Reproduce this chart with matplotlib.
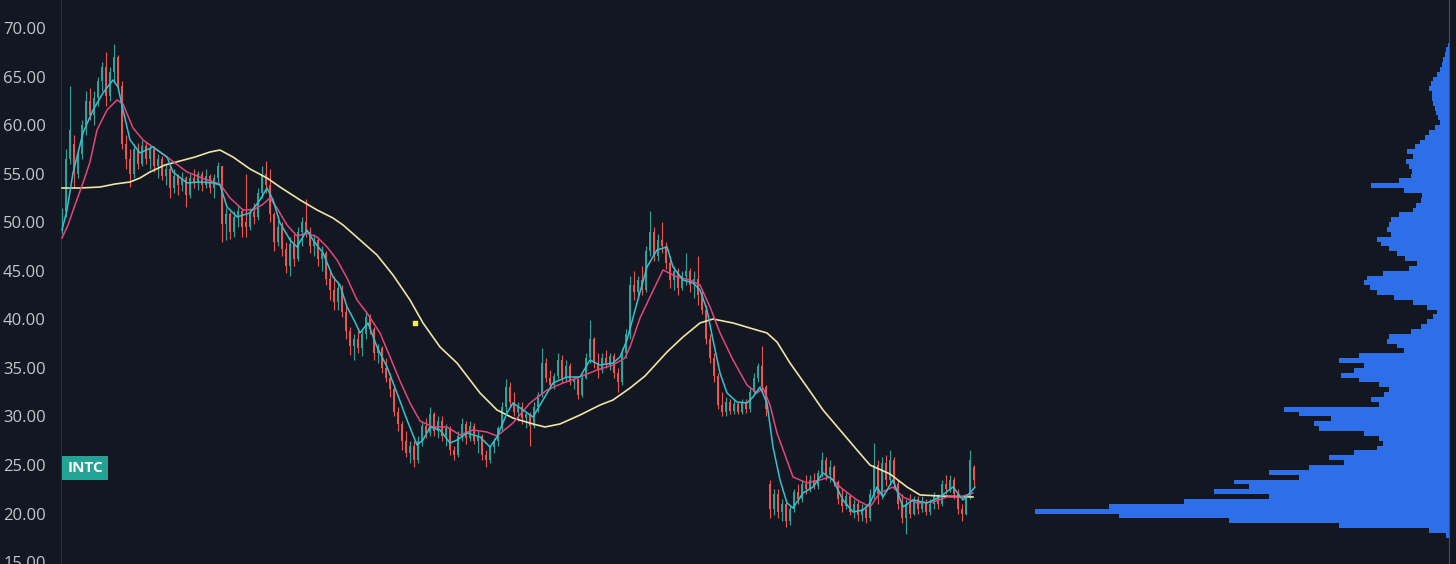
"""INTC daily candles with three moving averages and a volume profile, TradingView dark style."""

import matplotlib
matplotlib.use("Agg")
import matplotlib.pyplot as plt
import matplotlib.transforms as mtransforms
import numpy as np

plt.rcParams["font.family"] = ["Open Sans", "DejaVu Sans"]

# Candles (one entry per bar, oldest first), prices in USD.
opens = [49.0, 51.0, 56.5, 58.0, 55.0, 57.0, 60.0, 62.5, 61.0, 62.8, 64.5, 66.0, 63.0, 65.5, 67.0, 64.0, 58.0, 56.5, 55.0, 57.5,
         56.0, 57.8, 56.5, 57.5, 55.8, 56.5, 54.8, 55.5, 53.5, 54.8, 53.8, 54.5, 52.8, 54.5, 54.0, 55.0, 53.8, 54.8, 53.5, 54.5,
         55.8, 49.8, 50.8, 49.0, 50.5, 51.2, 50.0, 49.5, 51.0, 50.5, 53.0, 55.0, 53.8, 50.8, 48.0, 49.5, 47.2, 45.5, 47.8, 46.2,
         49.0, 50.0, 49.0, 47.5, 48.2, 46.2, 46.8, 44.2, 43.0, 41.8, 43.2, 40.8, 38.8, 37.2, 38.0, 37.0, 38.5, 40.2, 39.0, 36.5,
         37.0, 35.0, 34.0, 32.8, 30.5, 29.2, 27.5, 26.2, 27.0, 25.5, 27.5, 29.0, 28.3, 30.2, 28.5, 29.5, 28.0, 28.8, 26.5, 26.0,
         28.0, 29.2, 27.8, 29.0, 27.5, 28.0, 26.0, 25.5, 26.8, 27.5, 28.8, 31.0, 33.0, 31.5, 30.5, 31.0, 29.8, 30.2, 29.0, 31.0,
         32.2, 35.5, 34.0, 33.2, 34.2, 35.8, 34.0, 35.2, 33.5, 33.8, 32.2, 34.0, 36.0, 38.0, 35.5, 34.8, 36.0, 35.3, 36.2, 34.5,
         33.5, 36.5, 38.5, 43.5, 42.8, 44.0, 43.0, 47.0, 49.0, 46.5, 48.2, 47.5, 45.8, 44.0, 45.0, 43.2, 44.5, 45.0, 43.5, 44.2,
         42.5, 41.0, 38.0, 36.0, 34.2, 31.2, 30.5, 31.5, 30.6, 31.3, 30.5, 31.5, 30.8, 32.5, 34.0, 35.2, 33.0, 23.0, 20.5, 22.0,
         20.2, 21.0, 19.2, 20.5, 22.2, 21.5, 23.0, 22.5, 23.5, 22.8, 24.2, 25.5, 24.0, 24.8, 23.2, 21.5, 20.8, 21.8, 20.2, 21.0,
         19.8, 20.5, 19.5, 22.0, 25.0, 22.0, 25.2, 23.5, 25.5, 23.0, 21.0, 19.5, 21.0, 20.0, 21.5, 20.5, 21.2, 20.2, 21.0, 21.8,
         21.0, 23.0, 22.5, 23.5, 22.0, 20.5, 20.0, 21.8, 24.8]
highs = [51.5, 57.5, 64.0, 59.0, 57.5, 60.5, 63.5, 63.8, 63.5, 65.0, 66.5, 67.5, 66.0, 68.4, 67.2, 64.5, 59.0, 57.5, 58.0, 58.2,
         58.5, 58.3, 58.0, 57.8, 57.0, 56.8, 56.0, 55.8, 55.5, 55.0, 55.2, 54.8, 55.0, 55.5, 55.3, 55.3, 55.5, 55.0, 55.0, 56.2,
         55.8, 51.5, 51.0, 51.2, 51.8, 51.5, 55.0, 51.5, 52.0, 53.5, 55.8, 56.3, 55.5, 51.0, 50.2, 50.0, 48.0, 48.5, 48.8, 49.5,
         50.5, 52.4, 49.5, 48.8, 48.5, 47.5, 47.0, 45.0, 44.5, 43.8, 43.5, 41.5, 39.2, 38.5, 38.8, 39.0, 40.8, 40.5, 39.2, 37.5,
         37.3, 36.0, 34.5, 33.0, 31.0, 29.5, 28.5, 27.5, 27.5, 28.0, 29.5, 29.8, 31.0, 30.5, 30.0, 30.0, 29.2, 29.0, 27.0, 28.5,
         29.8, 29.5, 29.5, 29.3, 28.5, 28.2, 26.5, 27.0, 27.8, 29.0, 31.5, 33.8, 33.5, 32.5, 31.5, 31.5, 30.5, 30.5, 31.5, 32.5,
         37.0, 36.0, 34.8, 34.5, 36.5, 36.3, 35.8, 35.5, 34.2, 34.0, 34.5, 36.5, 39.9, 38.2, 36.5, 36.5, 36.8, 36.5, 36.5, 35.0,
         37.0, 39.0, 44.5, 45.0, 44.5, 45.5, 47.5, 51.2, 49.5, 48.8, 50.0, 48.0, 46.5, 45.5, 45.3, 45.0, 46.8, 45.3, 45.0, 46.5,
         43.0, 41.5, 38.5, 36.5, 34.5, 32.5, 32.0, 31.8, 31.8, 31.5, 31.8, 31.8, 33.0, 34.5, 35.5, 37.2, 33.2, 23.5, 22.5, 22.5,
         21.5, 21.2, 20.8, 22.5, 23.0, 23.5, 24.0, 24.0, 24.2, 24.5, 26.3, 25.8, 25.5, 25.0, 23.5, 22.5, 22.2, 22.0, 21.5, 21.3,
         21.0, 20.8, 22.5, 27.3, 25.5, 25.8, 26.0, 26.5, 25.8, 23.5, 22.0, 21.5, 22.0, 21.8, 21.8, 21.8, 21.5, 21.5, 22.2, 22.0,
         23.5, 24.0, 24.0, 23.8, 22.5, 21.0, 22.0, 26.5, 25.0]
lows = [48.8, 50.5, 56.0, 53.5, 54.5, 56.5, 59.0, 60.5, 60.0, 62.0, 63.5, 62.0, 62.5, 64.5, 63.5, 57.5, 55.5, 53.6, 54.5, 55.5,
        55.8, 56.0, 55.5, 55.2, 54.5, 54.3, 53.8, 52.5, 53.0, 52.8, 53.2, 51.6, 52.5, 53.5, 53.3, 53.2, 53.5, 53.0, 52.5, 54.0,
        48.0, 48.2, 48.3, 48.5, 49.5, 48.5, 48.5, 49.2, 49.8, 50.2, 52.5, 53.0, 50.0, 47.0, 47.5, 46.5, 44.8, 44.5, 45.5, 46.0,
        47.5, 48.5, 46.8, 46.5, 45.5, 45.0, 43.5, 42.0, 41.0, 41.0, 40.2, 38.0, 36.3, 35.8, 36.5, 36.2, 38.0, 38.5, 35.8, 35.5,
        34.5, 33.5, 32.0, 30.0, 28.5, 26.5, 25.8, 25.2, 24.8, 25.2, 27.0, 27.8, 28.0, 28.0, 27.8, 27.5, 27.0, 26.0, 25.5, 25.8,
        27.5, 27.2, 27.5, 27.2, 26.2, 25.5, 24.8, 25.2, 26.2, 27.0, 28.5, 30.5, 31.0, 30.0, 29.5, 29.2, 28.8, 27.0, 28.8, 30.5,
        32.0, 33.5, 32.8, 32.8, 33.8, 33.5, 33.5, 33.2, 32.8, 31.8, 32.0, 33.8, 35.5, 35.0, 34.0, 34.5, 35.0, 34.8, 34.0, 32.5,
        33.2, 36.0, 38.0, 42.0, 42.2, 42.5, 42.8, 46.5, 46.0, 46.0, 46.8, 45.2, 43.2, 43.0, 42.5, 43.0, 43.5, 42.8, 42.2, 41.5,
        40.5, 37.5, 35.5, 33.5, 30.8, 30.0, 30.0, 30.2, 30.2, 30.2, 30.2, 30.3, 30.5, 32.2, 33.5, 32.5, 30.0, 19.5, 19.8, 19.5,
        19.2, 18.6, 18.8, 20.2, 21.0, 21.2, 22.0, 22.2, 22.5, 22.5, 23.8, 23.5, 23.2, 22.8, 21.0, 20.2, 20.5, 19.8, 19.5, 19.2,
        19.2, 19.0, 19.2, 21.5, 21.0, 21.5, 22.8, 23.0, 22.5, 20.5, 19.0, 17.9, 19.5, 19.8, 20.0, 20.2, 19.8, 19.8, 20.5, 20.5,
        20.8, 22.0, 22.2, 21.5, 20.0, 19.2, 19.8, 21.5, 22.8]
closes = [51.0, 56.5, 59.5, 55.0, 57.0, 60.0, 62.5, 61.0, 62.8, 64.5, 66.0, 63.0, 65.5, 67.0, 64.0, 58.0, 56.5, 55.0, 57.5, 56.0,
          57.8, 56.5, 57.5, 55.8, 56.5, 54.8, 55.5, 53.5, 54.8, 53.8, 54.5, 52.8, 54.5, 54.0, 55.0, 53.8, 54.8, 53.5, 54.5, 55.8,
          49.8, 50.8, 49.0, 50.5, 51.2, 49.5, 49.5, 51.0, 50.5, 53.0, 55.0, 53.8, 50.8, 48.0, 49.5, 47.2, 45.5, 47.8, 46.2, 49.0,
          50.0, 49.0, 47.5, 48.2, 46.2, 46.8, 44.2, 43.0, 41.8, 43.2, 40.8, 38.8, 37.2, 38.0, 37.0, 38.5, 40.2, 39.0, 36.5, 37.0,
          35.0, 34.0, 32.8, 30.5, 29.2, 27.5, 26.2, 27.0, 25.5, 27.5, 29.0, 28.3, 30.2, 28.5, 29.5, 28.0, 28.8, 26.5, 26.0, 28.0,
          29.2, 27.8, 29.0, 27.5, 28.0, 26.0, 25.5, 26.8, 27.5, 28.8, 31.0, 33.0, 31.5, 30.5, 31.0, 29.8, 30.2, 29.0, 31.0, 32.2,
          35.5, 34.0, 33.2, 34.2, 35.8, 34.0, 35.2, 33.5, 33.8, 32.2, 34.0, 36.0, 38.0, 35.5, 34.8, 36.0, 35.3, 36.2, 34.5, 33.5,
          36.5, 38.5, 43.5, 42.8, 44.0, 43.0, 47.0, 49.0, 46.5, 48.2, 47.5, 45.8, 44.0, 45.0, 43.2, 44.5, 45.0, 43.5, 44.2, 42.5,
          41.0, 38.0, 36.0, 34.2, 31.2, 30.5, 31.5, 30.6, 31.3, 30.5, 31.5, 30.8, 32.5, 34.0, 35.2, 33.0, 30.8, 20.5, 22.0, 20.2,
          21.0, 19.2, 20.5, 22.2, 21.5, 23.0, 22.5, 23.5, 22.8, 24.2, 25.5, 24.0, 24.8, 23.2, 21.5, 20.8, 21.8, 20.2, 21.0, 19.8,
          20.5, 19.5, 22.0, 25.0, 22.0, 25.2, 23.5, 25.5, 23.0, 21.0, 19.5, 21.0, 20.0, 21.5, 20.5, 21.2, 20.2, 21.0, 21.8, 21.0,
          23.0, 22.5, 23.5, 22.0, 20.5, 20.0, 21.8, 25.5, 23.5]

# Moving averages, sampled at bar positions (bar index, price).
ma_fast_bar = [0, 1.25, 2.75, 5.25, 7.75, 10.25, 12.75, 14, 15.25, 17, 19.5, 22.75, 26.25, 27.75, 31.25, 34.5, 37.75, 39.5,
               41.25, 43.75, 47, 49.5, 51.25, 52.75, 54.5, 57, 58.75, 61.25, 62.75, 65.25, 67.75, 69.5, 71.25, 73.25, 74.5,
               76.5, 78.75, 81.25, 83.75, 86.25, 88.75, 90.25, 92, 94.5, 97, 98.75, 101.25, 104.5, 107, 108.75, 111.25,
               112.75, 115.25, 117.75, 120.25, 122.75, 126.25, 129.5, 132, 134.5, 137.75, 139.5, 141.25, 143.75, 146.25,
               148.75, 151.25, 152.75, 155.25, 157.75, 159.5, 161.25, 162.75, 164.5, 166.25, 168.75, 171.25, 172.75, 174.5,
               176.25, 177.75, 179.5, 181.25, 182.75, 185.25, 187.75, 190.25, 192.75, 195.25, 197.75, 200.25, 202, 203.75,
               205.25, 207.75, 210.25, 212.75, 216.25, 219.5, 222.75, 225.25, 227, 228.25]
ma_fast = [49.2, 51.26, 55.07, 59.19, 61.55, 63.31, 64.64, 63.92, 61.55, 58.47, 57.13, 57.75, 56.71, 55.17, 54.04, 54.14,
           54.04, 53.83, 51.57, 50.54, 50.95, 52.29, 53.52, 52.29, 49.92, 48.17, 47.45, 49.2, 48.17, 46.83, 44.36, 43.53,
           41.27, 39.72, 38.59, 39.62, 37.15, 35.09, 32.41, 29.63, 27.05, 27.57, 28.91, 28.6, 27.26, 27.57, 28.29, 27.88,
           26.85, 27.88, 30.35, 31.38, 30.66, 29.94, 31.69, 33.44, 34.06, 34.06, 35.81, 35.29, 35.5, 36.12, 37.87, 41.68,
           45.39, 47.14, 47.45, 45.39, 44.05, 43.74, 43.02, 40.96, 37.87, 34.47, 32.41, 31.48, 31.38, 32.0, 33.03, 31.38,
           26.85, 23.45, 21.08, 20.57, 22.11, 22.73, 24.17, 23.45, 21.39, 20.15, 20.36, 21.08, 22.73, 21.7, 23.45, 20.67,
           21.39, 21.08, 21.7, 22.73, 21.39, 22.11, 22.73]

ma_mid_bar = [0, 1.5, 3.25, 5.25, 7, 8.75, 11.25, 13.75, 15.25, 17.75, 20.25, 23.75, 26.25, 31.25, 36.25, 39.5, 42, 45.25,
              47.75, 50, 52, 53.75, 56.25, 58.75, 61.25, 63.75, 66.25, 68.75, 71.25, 73.75, 76.25, 79.5, 82, 84.5, 87, 89.5,
              92.75, 96.25, 99.5, 102.75, 106.25, 108.75, 112.75, 117, 121.25, 125.25, 129.5, 133.75, 137.75, 140.75, 142,
              144.5, 147, 150.25, 153.75, 157, 159.5, 162, 164.5, 167.75, 171.25, 173.75, 175.25, 177, 178.75, 180.75,
              182.75, 186.25, 189.5, 192, 194.5, 198.75, 202, 204.5, 207.75, 210.25, 213.75, 217.75, 221.25, 224.5, 227.75]
ma_mid = [48.37, 49.71, 51.77, 54.04, 56.2, 59.49, 61.55, 62.59, 62.17, 59.7, 58.47, 57.44, 56.71, 55.17, 54.35, 53.93,
          52.49, 51.26, 51.26, 51.77, 52.49, 51.46, 49.71, 48.58, 48.88, 48.48, 47.45, 46.11, 44.25, 41.99, 40.65, 38.59,
          36.12, 33.65, 31.38, 29.53, 28.91, 28.91, 28.08, 28.6, 28.39, 27.98, 29.32, 31.38, 32.72, 33.44, 34.06, 34.78,
          35.29, 36.02, 37.15, 40.13, 42.3, 45.08, 44.36, 44.05, 43.53, 41.27, 38.59, 35.81, 33.23, 32.41, 32.93, 31.17,
          28.29, 26.03, 23.76, 23.14, 23.45, 23.76, 22.73, 21.39, 20.67, 22.11, 22.73, 21.7, 21.08, 21.18, 21.7, 21.7, 22.11]

ma_slow_bar = [0, 4.5, 9.5, 13.25, 17, 19.5, 22, 25.75, 29.5, 33.25, 37, 39.5, 42.75, 47, 51.25, 54.5, 59.5, 63.75, 67.75,
               70.25, 74.5, 78.75, 82.75, 87, 90.25, 94.5, 98.75, 104.5, 108.75, 112.75, 117.75, 120.75, 124.5, 129.5,
               134.5, 137.75, 142, 145.75, 151.25, 155.25, 159.5, 162.75, 167.75, 172, 176.25, 178.75, 182, 186.25, 190.25,
               194.5, 198.75, 202, 207, 211.25, 214.5, 219.5, 227.75]
ma_slow = [53.52, 53.52, 53.62, 53.93, 54.14, 54.55, 55.17, 55.89, 56.3, 56.71, 57.23, 57.43, 56.71, 55.48, 54.55, 53.62,
           52.29, 51.26, 50.43, 49.71, 48.17, 46.62, 44.56, 41.99, 39.62, 37.15, 35.5, 32.41, 30.66, 29.83, 29.22, 28.91,
           29.22, 30.14, 31.17, 31.69, 32.92, 34.16, 36.63, 38.18, 39.62, 40.03, 39.62, 39.1, 38.59, 37.66, 35.5, 33.03,
           30.66, 28.6, 26.54, 24.99, 24.07, 22.73, 21.91, 21.8, 21.7]

# Volume profile: relative traded volume per 0.50 price row, from 17.75 upward.
vp_volume = [3, 20, 110, 220, 330, 414, 340, 265, 180, 235, 200, 215, 150, 180, 140, 105, 120, 95, 72, 66,
             70, 85, 130, 135, 118, 150, 165, 70, 78, 65, 60, 70, 90, 108, 95, 85, 110, 90, 45, 52,
             62, 60, 38, 28, 22, 16, 12, 22, 36, 55, 72, 79, 85, 82, 66, 40, 32, 44, 52, 60,
             68, 72, 58, 62, 60, 58, 50, 36, 33, 28, 27, 45, 78, 50, 38, 37, 40, 43, 36, 42,
             34, 29, 24, 20, 14, 9, 11, 13, 14, 16, 17, 17, 20, 18, 16, 12, 9, 7, 6, 4,
             3, 1]
vp_start = 17.75
vp_step = 0.5

marker_bar, marker_price = 88.25, 39.62
ticker = "INTC"
y_ticks = [15, 20, 25, 30, 35, 40, 45, 50, 55, 60, 65, 70]

BG = "#131722"
UP = "#26a69a"
DOWN = "#ef5350"
TEXT = "#c3c6ce"

fig = plt.figure(figsize=(14.56, 5.64), dpi=100)
fig.patch.set_facecolor(BG)
ax = fig.add_axes([61 / 1456, 0, 1388 / 1456, 1])
ax.set_facecolor(BG)

o = np.array(opens)
h = np.array(highs)
l = np.array(lows)
c = np.array(closes)
idx = np.arange(len(c))
cols = np.where(c >= o, UP, DOWN)

ax.vlines(idx, l, h, colors=cols, linewidth=0.8, zorder=2)
ax.bar(idx, np.maximum(np.abs(c - o), 0.1), bottom=np.minimum(o, c), width=0.65,
       color=cols, linewidth=0, zorder=2)

ax.plot(ma_slow_bar, ma_slow, color="#efe3a8", linewidth=1.2, zorder=3)
ax.plot(ma_mid_bar, ma_mid, color="#e2467c", linewidth=1.1, zorder=4)
ax.plot(ma_fast_bar, ma_fast, color="#2ec4d0", linewidth=1.1, zorder=5)
ax.scatter([marker_bar], [marker_price], s=5, marker="s", color="#ffeb3b", zorder=6)

# Volume profile hugging the right border.
vp = ax.twiny()
levels = vp_start + vp_step * np.arange(len(vp_volume))
vp.barh(levels, vp_volume, height=vp_step, left=0, color="#2d6fe8", linewidth=0, zorder=1)
vp.set_xlim(1388, 0)
vp.set_xticks([])
for s in vp.spines.values():
    s.set_visible(False)

ax.set_xlim(-0.25, 346.75)
ax.set_ylim(14.80, 72.88)
ax.set_xticks([])
ax.set_yticks(y_ticks)
ax.set_yticklabels([f"{v:.2f}" for v in y_ticks])
ax.tick_params(axis="y", length=0, pad=11, labelcolor=TEXT, labelsize=12)
for name, s in ax.spines.items():
    s.set_visible(name in ("left", "right"))
ax.spines["left"].set_color("#2a2e39")
ax.spines["right"].set_color("#4a4e59")

trans = mtransforms.blended_transform_factory(ax.transAxes, ax.transData)
ax.text(0.0045, 24.68, ticker, transform=trans, ha="left", va="center", color="white",
        fontsize=11, fontweight="bold", zorder=7,
        bbox=dict(boxstyle="square,pad=0.35", facecolor="#22a393", edgecolor="none"))

fig.savefig("out.png", dpi=100, facecolor=BG)
